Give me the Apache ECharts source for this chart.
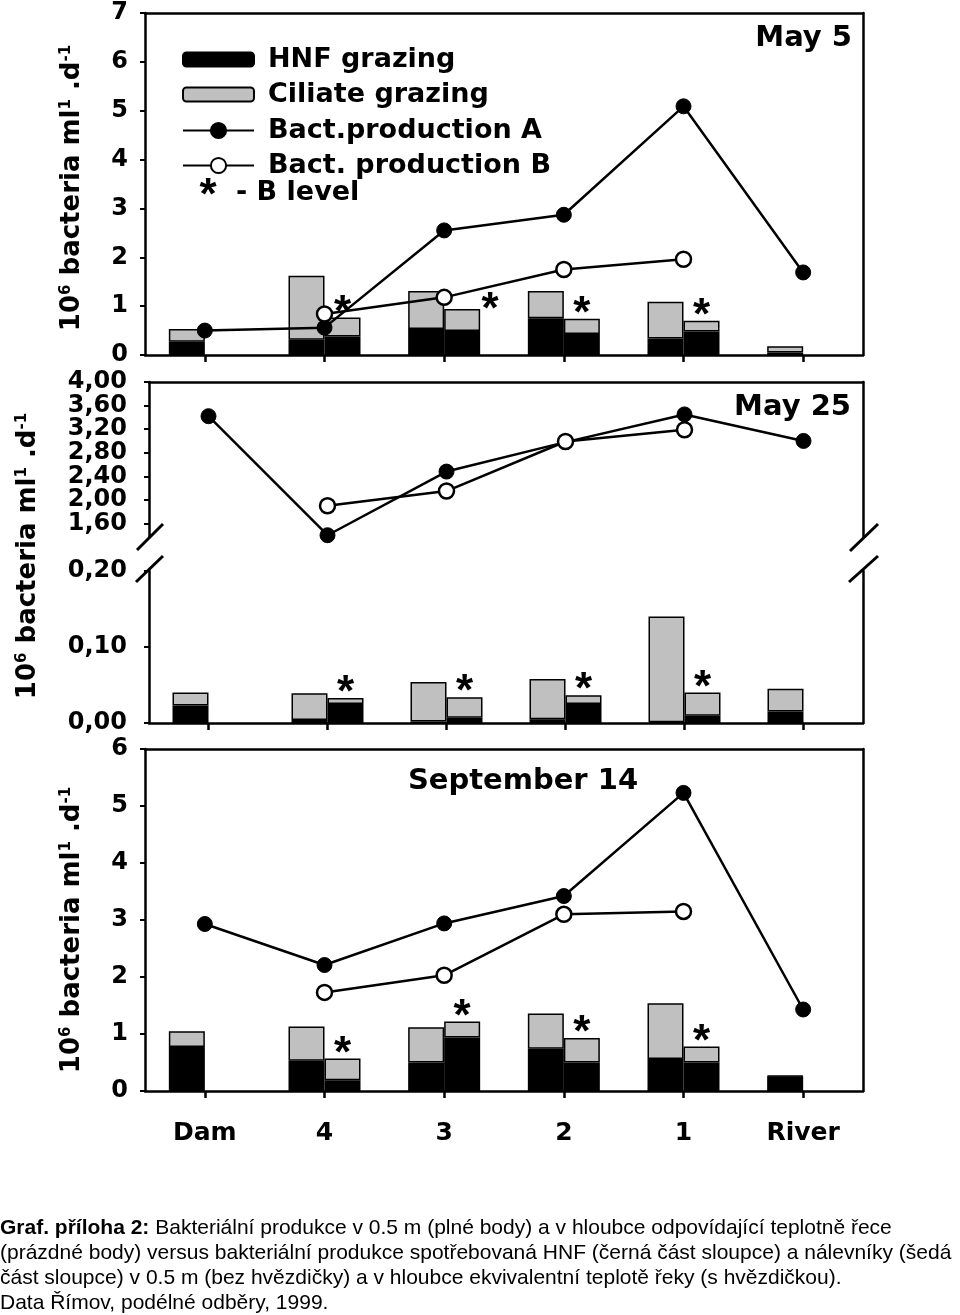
<!DOCTYPE html>
<html><head><meta charset="utf-8">
<script src="https://cdn.jsdelivr.net/npm/echarts@6.0.0/dist/echarts.min.js"></script>
<style>html,body{margin:0;padding:0;background:#fff}#c{width:960px;height:1315px}</style>
</head><body><div id="c"></div>
<script>
// ---------- data ----------
const categories = ['Dam', '4', '3', '2', '1', 'River'];

// May 5
const may5HnfA   = [0.27, 0.31, 0.53, 0.75, 0.34, 0.05];
const may5CilA   = [0.26, 1.31, 0.78, 0.56, 0.75, 0.13];
const may5HnfB   = [null, 0.38, 0.49, 0.43, 0.48, null];
const may5CilB   = [null, 0.39, 0.45, 0.31, 0.22, null];
const may5ProdA  = [0.50, 0.56, 2.55, 2.87, 5.09, 1.69];
const may5ProdB  = [null, 0.84, 1.18, 1.75, 1.96, null];

// May 25
const may25HnfA  = [0.023, 0.004, 0.002, 0.005, 0.001, 0.015];
const may25CilA  = [0.017, 0.035, 0.052, 0.053, 0.139, 0.030];
const may25HnfB  = [null, 0.025, 0.007, 0.025, 0.0095, null];
const may25CilB  = [null, 0.008, 0.027, 0.0115, 0.0305, null];
const may25ProdA = [3.42, 1.40, 2.48, 2.98, 3.45, 3.00];
const may25ProdB = [null, 1.90, 2.15, 2.99, 3.19, null];

// September 14
const sep14HnfA  = [0.77, 0.53, 0.50, 0.74, 0.56, 0.26];
const sep14CilA  = [0.28, 0.60, 0.62, 0.62, 0.98, 0.01];
const sep14HnfB  = [null, 0.19, 0.94, 0.50, 0.50, null];
const sep14CilB  = [null, 0.38, 0.28, 0.43, 0.28, null];
const sep14ProdA = [2.93, 2.21, 2.94, 3.42, 5.23, 1.43];
const sep14ProdB = [null, 1.73, 2.03, 3.10, 3.15, null];

// tick values of the broken axis (May 25)
const may25UpperTicks = [1.6, 2.0, 2.4, 2.8, 3.2, 3.6, 4.0];
const may25UpperLabelsA = [1.6, 2.4, 3.2, 4.0];
const may25UpperLabelsB = [2.0, 2.8, 3.6];
const may25LowerTicks = [0, 0.1, 0.2];

const legendNames = ['HNF grazing', 'Ciliate grazing', 'Bact.production A', 'Bact. production B'];
const panelTitles = ['May 5', 'May 25', 'September 14'];
const yTitle = '{m|10}{s|6}{m| bacteria ml}{s|1}{m| .d}{s|-1}';
const captionLines = [
  ['Graf. příloha 2:', ' Bakteriální produkce v 0.5 m (plné body) a v hloubce odpovídající teplotně řece'],
  ['', '(prázdné body) versus bakteriální produkce spotřebovaná HNF (černá část sloupce) a nálevníky (šedá'],
  ['', 'část sloupce) v 0.5 m (bez hvězdičky) a v hloubce ekvivalentní teplotě řeky (s hvězdičkou).'],
  ['', 'Data Římov, podélné odběry, 1999.']
];

// ---------- styling ----------
const F = 'DejaVu Sans';
const GREY = '#c0c0c0';
const axLine = {show: true, onZero: false, lineStyle: {color: '#000', width: 2.5}};
const tickLbl = {fontFamily: F, fontWeight: 'bold', fontSize: 24, color: '#000', showMinLabel: true, showMaxLabel: true};

function xBottom(g, showLabels) {
  return {type: 'category', data: categories, gridIndex: g, position: 'bottom',
    axisLine: axLine,
    axisTick: {show: true, alignWithLabel: true, length: 7, lineStyle: {color: '#000', width: 2.5}},
    axisLabel: showLabels ? {show: true, margin: 30, fontFamily: F, fontWeight: 'bold', fontSize: 25, color: '#000'} : {show: false},
    splitLine: {show: false}};
}
function xTop(g) {
  return {type: 'category', data: categories, gridIndex: g, position: 'top',
    axisLine: axLine, axisTick: {show: false}, axisLabel: {show: false}, splitLine: {show: false}};
}
function yRight(g) {
  return {type: 'value', gridIndex: g, position: 'right', min: 0, max: 1,
    axisLine: axLine, axisTick: {show: false}, axisLabel: {show: false}, splitLine: {show: false}};
}
const yTick = {show: true, length: 5, lineStyle: {color: '#000', width: 2}};

const grids = [
  {left: 145, top: 13, width: 718, height: 342},
  {left: 149, top: 382, width: 714, height: 155},
  {left: 149, top: 571, width: 714, height: 152},
  {left: 145, top: 749, width: 718, height: 342}
];

const xAxes = [
  xBottom(0, false), // 0
  xTop(0),           // 1
  xTop(1),           // 2
  xBottom(2, false), // 3
  xBottom(3, true),  // 4
  xTop(3)            // 5
];

const comma = v => v.toFixed(2).replace('.', ',');
const upperMin = 1.37, upperMax = 4.0;
const yAxes = [
  {type: 'value', gridIndex: 0, min: 0, max: 7, interval: 1, axisLine: axLine, axisTick: yTick,
   axisLabel: Object.assign({margin: 17}, tickLbl), splitLine: {show: false}},            // 0
  yRight(0),                                                                              // 1
  {type: 'value', gridIndex: 1, min: upperMin, max: upperMax, axisLine: axLine,
   axisTick: Object.assign({customValues: may25UpperTicks}, yTick),
   axisLabel: Object.assign({}, tickLbl, {margin: 22, customValues: may25UpperLabelsA, formatter: comma}),
   splitLine: {show: false}},                                                             // 2
  yRight(1),                                                                              // 3
  {type: 'value', gridIndex: 2, min: 0, max: 0.2, axisLine: axLine,
   axisTick: Object.assign({customValues: may25LowerTicks}, yTick),
   axisLabel: Object.assign({margin: 22, customValues: may25LowerTicks, formatter: comma}, tickLbl),
   splitLine: {show: false}},                                                             // 4
  yRight(2),                                                                              // 5
  {type: 'value', gridIndex: 3, min: 0, max: 6, interval: 1, axisLine: axLine, axisTick: yTick,
   axisLabel: Object.assign({margin: 17}, tickLbl), splitLine: {show: false}},            // 6
  yRight(3),                                                                              // 7
  {type: 'value', gridIndex: 1, position: 'left', min: upperMin, max: upperMax,
   axisLine: {show: false}, axisTick: {show: false},
   axisLabel: Object.assign({}, tickLbl, {margin: 22, customValues: may25UpperLabelsB, formatter: comma}),
   splitLine: {show: false}}                                                              // 8
];

const starLabel = {show: true, position: 'top', distance: 0, formatter: '*',
  fontFamily: 'Liberation Sans', fontWeight: 'bold', fontSize: 44, lineHeight: 44, color: '#000', offset: [0, 18]};

function barSeries(name, data, stack, color, xi, yi, withStar, starTweaks) {
  const s = {type: 'bar', name: name, stack: stack, xAxisIndex: xi, yAxisIndex: yi,
    barWidth: 36, barGap: '0%',
    itemStyle: {color: color, borderColor: '#000', borderWidth: 1.5},
    data: data.slice(), z: 2};
  if (withStar) {
    s.label = starLabel;
    if (starTweaks) {
      s.data = data.map((v, i) => starTweaks[i] ? {value: v, label: {offset: starTweaks[i]}} : v);
    }
  }
  return s;
}
function lineSeries(name, data, filled, xi, yi) {
  return {type: 'line', name: name, xAxisIndex: xi, yAxisIndex: yi, data: data, z: 5, clip: false,
    symbol: 'circle', symbolSize: 15,
    lineStyle: {color: '#000', width: 2.5},
    itemStyle: filled ? {color: '#000', borderColor: '#000', borderWidth: 1}
                      : {color: '#fff', borderColor: '#000', borderWidth: 2.5}};
}
function panel(p, xb, yb, xl, yl, hA, cA, hB, cB, pA, pB, starTweaks) {
  return [
    barSeries(legendNames[0], hA, 'A' + p, '#000', xb, yb, false),
    barSeries(legendNames[1], cA, 'A' + p, GREY, xb, yb, false),
    barSeries(legendNames[0], hB, 'B' + p, '#000', xb, yb, false),
    barSeries(legendNames[1], cB, 'B' + p, GREY, xb, yb, true, starTweaks),
    lineSeries(legendNames[2], pA, true, xl, yl),
    lineSeries(legendNames[3], pB, false, xl, yl)
  ];
}

const series = [].concat(
  panel(0, 0, 0, 0, 0, may5HnfA, may5CilA, may5HnfB, may5CilB, may5ProdA, may5ProdB,
        [null, null, [28, 24], null, null, null]),
  panel(1, 3, 4, 2, 2, may25HnfA, may25CilA, may25HnfB, may25CilB, may25ProdA, may25ProdB),
  panel(2, 4, 6, 4, 6, sep14HnfA, sep14CilA, sep14HnfB, sep14CilB, sep14ProdA, sep14ProdB)
);

// ---------- graphics (titles, break marks, caption) ----------
const titleFont = 'bold 29px "DejaVu Sans"';
const yTitleRich = {
  m: {fontFamily: F, fontWeight: 'bold', fontSize: 26, fill: '#000'},
  s: {fontFamily: F, fontWeight: 'bold', fontSize: 15, fill: '#000', verticalAlign: 'top'}
};
function yTitleEl(x, y) {
  return {type: 'text', x: x, y: y, rotation: Math.PI / 2,
    style: {text: yTitle, rich: yTitleRich, fill: '#000', align: 'center', verticalAlign: 'middle'}};
}
function slash(x1, y1, x2, y2) {
  return {type: 'line', shape: {x1: x1, y1: y1, x2: x2, y2: y2}, style: {stroke: '#000', lineWidth: 3}, z: 10};
}
const graphic = [
  {type: 'text', x: 852, y: 38, style: {text: panelTitles[0], font: titleFont, fill: '#000', align: 'right', verticalAlign: 'middle'}},
  {type: 'text', x: 851, y: 407, style: {text: panelTitles[1], font: titleFont, fill: '#000', align: 'right', verticalAlign: 'middle'}},
  {type: 'text', x: 523, y: 781, style: {text: panelTitles[2], font: titleFont, fill: '#000', align: 'center', verticalAlign: 'middle'}},
  yTitleEl(72, 188),
  yTitleEl(28, 556),
  yTitleEl(72, 930),
  slash(137, 550, 163, 524), slash(136, 582, 163, 556),
  slash(850, 551, 878, 524), slash(849, 582, 878, 556),
  {type: 'text', x: 208, y: 197, style: {text: '*', font: 'bold 44px "Liberation Sans"', fill: '#000', align: 'center', verticalAlign: 'middle'}},
  {type: 'text', x: 236, y: 193, style: {text: '- B level', font: 'bold 27px "DejaVu Sans"', fill: '#000', align: 'left', verticalAlign: 'middle'}}
];
const capY = [1228, 1253, 1278, 1303];
captionLines.forEach((ln, i) => {
  graphic.push({type: 'text', x: 0, y: capY[i], style: {
    text: (ln[0] ? '{b|' + ln[0] + '}' : '') + '{r|' + ln[1] + '}',
    rich: {b: {fontFamily: 'Liberation Sans', fontWeight: 'bold', fontSize: 21, fill: '#000'},
           r: {fontFamily: 'Liberation Sans', fontSize: 21, fill: '#000'}},
    fill: '#000', align: 'left', verticalAlign: 'middle'}});
});

const legendText = {fontFamily: F, fontWeight: 'bold', fontSize: 27, lineHeight: 27, color: '#000', padding: [0, 0, 0, 9]};
const chart = echarts.init(document.getElementById('c'), null, {renderer: 'canvas'});
chart.setOption({
  animation: false,
  backgroundColor: '#fff',
  textStyle: {fontFamily: F},
  grid: grids,
  xAxis: xAxes,
  yAxis: yAxes,
  legend: [
    {orient: 'vertical', left: 177, top: 41, itemWidth: 71, itemHeight: 14, itemGap: 8,
     selectedMode: false, textStyle: legendText,
     data: [{name: legendNames[0], icon: 'roundRect'}, {name: legendNames[1], icon: 'roundRect'}]},
    {orient: 'vertical', left: 177, top: 112, itemWidth: 71, itemHeight: 19, itemGap: 8,
     selectedMode: false, textStyle: legendText,
     data: [{name: legendNames[2]}, {name: legendNames[3]}]}
  ],
  series: series,
  graphic: graphic
});
</script>
</body></html>
